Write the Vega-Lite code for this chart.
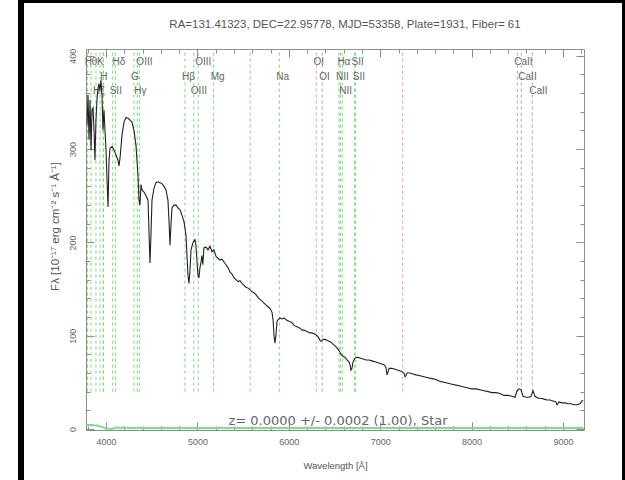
{
  "$schema": "https://vega.github.io/schema/vega-lite/v6.json",
  "background": "white",
  "padding": {"left": 18, "top": 0, "right": 0, "bottom": 0},
  "config": {"view": {"stroke": null}},
  "datasets": {
    "spec": [
      {"w":3791,"f":326},{"w":3802,"f":358},{"w":3813,"f":310},{"w":3824,"f":353},{"w":3835,"f":299},{"w":3846,"f":342},{"w":3857,"f":344},{"w":3868,"f":320},{"w":3878,"f":288},{"w":3889,"f":331},{"w":3900,"f":353},{"w":3911,"f":365},{"w":3922,"f":370},{"w":3933,"f":363},{"w":3944,"f":374},{"w":3955,"f":358},{"w":3966,"f":320},{"w":3977,"f":342},{"w":3988,"f":320},{"w":3999,"f":299},{"w":4010,"f":267},{"w":4021,"f":238},{"w":4032,"f":288},{"w":4043,"f":301},{"w":4065,"f":303},{"w":4086,"f":299},{"w":4108,"f":294},{"w":4130,"f":288},{"w":4141,"f":282},{"w":4152,"f":290},{"w":4174,"f":315},{"w":4196,"f":329},{"w":4218,"f":334},{"w":4240,"f":333},{"w":4262,"f":331},{"w":4283,"f":329},{"w":4305,"f":320},{"w":4327,"f":304},{"w":4338,"f":288},{"w":4349,"f":272},{"w":4360,"f":245},{"w":4371,"f":240},{"w":4382,"f":262},{"w":4393,"f":256},{"w":4415,"f":254},{"w":4437,"f":250},{"w":4459,"f":245},{"w":4469,"f":213},{"w":4480,"f":178},{"w":4491,"f":208},{"w":4502,"f":245},{"w":4524,"f":258},{"w":4546,"f":264},{"w":4568,"f":265},{"w":4590,"f":264},{"w":4612,"f":263},{"w":4634,"f":260},{"w":4656,"f":256},{"w":4677,"f":245},{"w":4688,"f":224},{"w":4699,"f":197},{"w":4710,"f":219},{"w":4721,"f":237},{"w":4743,"f":240},{"w":4765,"f":240},{"w":4787,"f":237},{"w":4809,"f":235},{"w":4831,"f":229},{"w":4853,"f":222},{"w":4874,"f":208},{"w":4885,"f":186},{"w":4896,"f":165},{"w":4907,"f":156},{"w":4918,"f":170},{"w":4929,"f":192},{"w":4951,"f":200},{"w":4973,"f":203},{"w":4983,"f":197},{"w":4994,"f":181},{"w":5005,"f":165},{"w":5016,"f":162},{"w":5027,"f":173},{"w":5039,"f":179},{"w":5048,"f":186},{"w":5059,"f":176},{"w":5070,"f":194},{"w":5093,"f":195},{"w":5115,"f":192},{"w":5137,"f":196},{"w":5159,"f":190},{"w":5180,"f":192},{"w":5203,"f":185},{"w":5225,"f":183},{"w":5246,"f":181},{"w":5268,"f":182},{"w":5290,"f":179},{"w":5312,"f":176},{"w":5334,"f":173},{"w":5356,"f":168},{"w":5378,"f":166},{"w":5400,"f":162},{"w":5422,"f":160},{"w":5443,"f":158},{"w":5465,"f":159},{"w":5487,"f":156},{"w":5509,"f":154},{"w":5531,"f":152},{"w":5553,"f":151},{"w":5575,"f":149},{"w":5597,"f":147},{"w":5619,"f":146},{"w":5640,"f":144},{"w":5662,"f":141},{"w":5684,"f":139},{"w":5706,"f":137},{"w":5728,"f":135},{"w":5750,"f":133},{"w":5772,"f":131},{"w":5794,"f":129},{"w":5816,"f":125},{"w":5827,"f":117},{"w":5837,"f":101},{"w":5848,"f":92},{"w":5859,"f":101},{"w":5870,"f":115},{"w":5881,"f":117},{"w":5903,"f":119},{"w":5925,"f":118},{"w":5947,"f":119},{"w":5969,"f":117},{"w":5991,"f":116},{"w":6013,"f":115},{"w":6034,"f":114},{"w":6056,"f":111},{"w":6078,"f":110},{"w":6100,"f":109},{"w":6122,"f":108},{"w":6144,"f":106},{"w":6166,"f":106},{"w":6188,"f":105},{"w":6210,"f":104},{"w":6231,"f":103},{"w":6253,"f":103},{"w":6275,"f":102},{"w":6297,"f":101},{"w":6319,"f":99},{"w":6341,"f":95},{"w":6352,"f":94},{"w":6374,"f":96},{"w":6396,"f":96},{"w":6417,"f":95},{"w":6439,"f":94},{"w":6461,"f":93},{"w":6483,"f":91},{"w":6505,"f":89},{"w":6527,"f":87},{"w":6549,"f":84},{"w":6571,"f":80},{"w":6593,"f":78},{"w":6614,"f":77},{"w":6636,"f":74},{"w":6658,"f":72},{"w":6669,"f":69},{"w":6680,"f":63},{"w":6691,"f":65},{"w":6702,"f":72},{"w":6724,"f":76},{"w":6746,"f":77},{"w":6779,"f":76},{"w":6812,"f":75},{"w":6844,"f":74},{"w":6877,"f":74},{"w":6910,"f":73},{"w":6943,"f":72},{"w":6976,"f":71},{"w":7008,"f":70},{"w":7041,"f":69},{"w":7063,"f":66},{"w":7074,"f":58},{"w":7085,"f":61},{"w":7096,"f":65},{"w":7129,"f":65},{"w":7162,"f":64},{"w":7195,"f":63},{"w":7227,"f":62},{"w":7260,"f":60},{"w":7271,"f":56},{"w":7282,"f":57},{"w":7293,"f":60},{"w":7326,"f":60},{"w":7359,"f":59},{"w":7392,"f":58},{"w":7435,"f":57},{"w":7479,"f":56},{"w":7523,"f":55},{"w":7567,"f":54},{"w":7610,"f":53},{"w":7654,"f":51},{"w":7698,"f":50},{"w":7742,"f":49},{"w":7786,"f":48},{"w":7829,"f":47},{"w":7873,"f":46},{"w":7917,"f":45},{"w":7961,"f":44},{"w":8004,"f":43},{"w":8048,"f":43},{"w":8092,"f":42},{"w":8136,"f":41},{"w":8180,"f":40},{"w":8223,"f":39},{"w":8267,"f":39},{"w":8311,"f":38},{"w":8355,"f":36},{"w":8398,"f":36},{"w":8442,"f":35},{"w":8475,"f":34},{"w":8497,"f":41},{"w":8519,"f":43},{"w":8541,"f":42},{"w":8563,"f":35},{"w":8595,"f":34},{"w":8628,"f":34},{"w":8650,"f":35},{"w":8672,"f":41},{"w":8694,"f":35},{"w":8727,"f":33},{"w":8760,"f":33},{"w":8792,"f":32},{"w":8825,"f":31},{"w":8858,"f":31},{"w":8891,"f":30},{"w":8924,"f":29},{"w":8935,"f":26},{"w":8957,"f":29},{"w":8989,"f":28},{"w":9022,"f":28},{"w":9055,"f":27},{"w":9088,"f":27},{"w":9121,"f":26},{"w":9154,"f":26},{"w":9186,"f":27},{"w":9208,"f":30},{"w":9219,"f":31}
    ],
    "err": [
      {"w":3785,"e":4},{"w":3830,"e":4.5},{"w":3870,"e":4},{"w":3920,"e":3.5},{"w":3960,"e":2},{"w":4000,"e":0.5},{"w":4060,"e":0},{"w":4120,"e":1.5},{"w":4300,"e":1},{"w":4800,"e":1},{"w":5500,"e":1},{"w":6500,"e":1},{"w":7500,"e":1},{"w":8500,"e":1},{"w":9225,"e":1}
    ],
    "lines": [
      {"w":3798,"k":"emission"},{"w":3835,"k":"emission"},{"w":3889,"k":"emission"},{"w":3934,"k":"emission"},{"w":3969,"k":"emission"},{"w":3971,"k":"emission"},{"w":4072,"k":"emission"},{"w":4102,"k":"emission"},{"w":4305,"k":"emission"},{"w":4341,"k":"emission"},{"w":4364,"k":"emission"},{"w":4863,"k":"emission"},{"w":4960,"k":"emission"},{"w":5008,"k":"emission"},{"w":5177,"k":"emission"},{"w":5577,"k":"sky"},{"w":5896,"k":"emission"},{"w":6300,"k":"sky"},{"w":6365,"k":"absorption"},{"w":6549,"k":"emission"},{"w":6564,"k":"emission"},{"w":6585,"k":"emission"},{"w":6718,"k":"emission"},{"w":6732,"k":"emission"},{"w":7246,"k":"sky"},{"w":8500,"k":"absorption"},{"w":8544,"k":"absorption"},{"w":8664,"k":"absorption"}
    ],
    "labels": [
      {"t":"Hθ","w":3798,"tier":1},{"t":"K","w":3934,"tier":1},{"t":"Hδ","w":4102,"tier":1},{"t":"OIII","w":4364,"tier":1},{"t":"OIII","w":5008,"tier":1},{"t":"OI","w":6302,"tier":1},{"t":"Hα","w":6564,"tier":1},{"t":"SII","w":6718,"tier":1},{"t":"CaII","w":8500,"tier":1},
      {"t":"H","w":3969,"tier":2},{"t":"G","w":4305,"tier":2},{"t":"Hβ","w":4863,"tier":2},{"t":"Mg","w":5177,"tier":2},{"t":"Na","w":5896,"tier":2},{"t":"OI","w":6365,"tier":2},{"t":"NII","w":6549,"tier":2},{"t":"SII","w":6732,"tier":2},{"t":"CaII","w":8544,"tier":2},
      {"t":"Hζ","w":3889,"tier":3},{"t":"SII","w":4072,"tier":3},{"t":"Hγ","w":4341,"tier":3},{"t":"OIII","w":4960,"tier":3},{"t":"NII","w":6585,"tier":3},{"t":"CaII","w":8664,"tier":3}
    ]
  },
  "columns": 5,
  "spacing": 0,
  "bounds": "flush",
  "align": "each",
  "concat": [
    {"width": 6, "height": 3, "data": {"values": []}, "mark": "point", "view": {"fill": "black", "stroke": null}},
    {"width": 62, "height": 3, "data": {"values": []}, "mark": "point", "view": {"fill": "black", "stroke": null}},
    {"width": 498, "height": 3, "data": {"values": []}, "mark": "point", "view": {"fill": "black", "stroke": null}},
    {"width": 38, "height": 3, "data": {"values": []}, "mark": "point", "view": {"fill": "black", "stroke": null}},
    {"width": 3, "height": 3, "data": {"values": []}, "mark": "point", "view": {"fill": "black", "stroke": null}},

    {"width": 6, "height": 46, "data": {"values": []}, "mark": "point", "view": {"fill": "black", "stroke": null}},
    {"width": 62, "height": 46, "data": {"values": []}, "mark": "point"},
    {"width": 498, "height": 46, "data": {"values": []}, "mark": "point"},
    {"width": 38, "height": 46, "data": {"values": []}, "mark": "point"},
    {"width": 3, "height": 46, "data": {"values": []}, "mark": "point", "view": {"fill": "black", "stroke": null}},

    {"width": 6, "height": 431, "data": {"values": []}, "mark": "point", "view": {"fill": "black", "stroke": null}},
    {"width": 62, "height": 431, "data": {"values": []}, "mark": "point"},
    {
      "width": 498,
      "height": 381,
      "view": {"stroke": "#8c8c8c", "strokeWidth": 1},
      "title": {"text": "RA=131.41323, DEC=22.95778, MJD=53358, Plate=1931, Fiber= 61", "frame": "group", "anchor": "middle", "dx": 10, "offset": 18, "fontSize": 11.5, "fontWeight": "normal", "font": "Liberation Sans", "color": "#555555"},
      "layer": [
        {
          "data": {"name": "lines"},
          "mark": {"type": "rule", "strokeDash": [3, 3], "strokeWidth": 1},
          "encoding": {
            "x": {"field": "w", "type": "quantitative", "scale": {"domain": [3780, 9230], "nice": false, "zero": false}, "axis": null},
            "y": {"datum": 40, "type": "quantitative", "scale": {"domain": [-1.1, 407.3], "nice": false, "zero": false}, "axis": null},
            "y2": {"datum": 407},
            "color": {"field": "k", "type": "nominal", "scale": {"domain": ["emission", "sky", "absorption"], "range": ["#74dc74", "#ee88ee", "#a8a8a8"]}, "legend": null}
          }
        },
        {
          "data": {"name": "labels"},
          "mark": {"type": "text", "align": "left", "baseline": "middle", "dx": -3, "fontSize": 10, "font": "Liberation Sans", "color": "#666666"},
          "encoding": {
            "x": {"field": "w", "type": "quantitative", "scale": {"domain": [3780, 9230], "nice": false, "zero": false}, "axis": null},
            "y": {"datum": 407, "type": "quantitative", "scale": {"domain": [-1.1, 407.3], "nice": false, "zero": false}, "axis": null},
            "yOffset": {"field": "tier", "type": "quantitative", "scale": {"domain": [1, 3], "range": [13, 42]}},
            "text": {"field": "t"}
          }
        },
        {
          "data": {"name": "err"},
          "mark": {"type": "line", "color": "#7ee07e", "strokeWidth": 2},
          "encoding": {
            "x": {"field": "w", "type": "quantitative", "scale": {"domain": [3780, 9230], "nice": false, "zero": false},
              "axis": {"orient": "top", "values": [3800,4000,4200,4400,4600,4800,5000,5200,5400,5600,5800,6000,6200,6400,6600,6800,7000,7200,7400,7600,7800,8000,8200,8400,8600,8800,9000,9200], "labels": false, "title": null, "domain": false, "grid": false, "tickColor": "#8c8c8c", "tickSize": {"condition": {"test": "datum.value % 1000 === 0", "value": -8}, "value": -4}}},
            "y": {"field": "e", "type": "quantitative", "scale": {"domain": [-1.1, 407.3], "nice": false, "zero": false},
              "axis": {"orient": "right", "values": [0,20,40,60,80,100,120,140,160,180,200,220,240,260,280,300,320,340,360,380,400], "labels": false, "title": null, "domain": false, "grid": false, "tickColor": "#8c8c8c", "tickSize": {"condition": {"test": "datum.value % 100 === 0", "value": -8}, "value": -4}}}
          }
        },
        {
          "data": {"name": "spec"},
          "mark": {"type": "line", "color": "#222222", "strokeWidth": 1.1},
          "encoding": {
            "x": {"field": "w", "type": "quantitative", "scale": {"domain": [3780, 9230], "nice": false, "zero": false},
              "axis": {"orient": "bottom", "values": [3800,4000,4200,4400,4600,4800,5000,5200,5400,5600,5800,6000,6200,6400,6600,6800,7000,7200,7400,7600,7800,8000,8200,8400,8600,8800,9000,9200], "labelExpr": "datum.value % 1000 === 0 ? datum.label : ''", "format": "d", "labelFlush": false, "labelOverlap": false, "domain": false, "grid": false, "tickColor": "#8c8c8c", "tickSize": {"condition": {"test": "datum.value % 1000 === 0", "value": -8}, "value": -4}, "labelPadding": 15, "labelFont": "Liberation Sans", "labelFontSize": 9, "labelColor": "#666666", "title": "Wavelength [Å]", "titleFont": "Liberation Sans", "titleFontSize": 9.5, "titleFontWeight": "normal", "titleColor": "#555555", "titleY": 35, "titleBaseline": "middle"}},
            "y": {"field": "f", "type": "quantitative", "scale": {"domain": [-1.1, 407.3], "nice": false, "zero": false},
              "axis": {"orient": "left", "values": [0,20,40,60,80,100,120,140,160,180,200,220,240,260,280,300,320,340,360,380,400], "labelExpr": "datum.value % 100 === 0 ? datum.label : ''", "format": "d", "labelFlush": false, "labelOverlap": false, "labelAngle": 270, "labelAlign": "center", "labelBaseline": "bottom", "domain": false, "grid": false, "tickColor": "#8c8c8c", "tickSize": {"condition": {"test": "datum.value % 100 === 0", "value": -8}, "value": -4}, "labelPadding": 17, "labelFont": "Liberation Sans", "labelFontSize": 9, "labelColor": "#666666", "title": "Fλ [10⁻¹⁷ erg cm⁻² s⁻¹ Å⁻¹]", "titleFont": "Liberation Sans", "titleFontSize": 11.5, "titleFontWeight": "normal", "titleColor": "#555555", "titleX": -31, "titleY": 177, "titleAngle": 270, "titleAlign": "center", "titleBaseline": "middle"}}
          }
        },
        {
          "data": {"values": [{"note": "z= 0.0000 +/- 0.0002 (1.00), Star"}]},
          "mark": {"type": "text", "align": "center", "baseline": "middle", "fontSize": 13, "font": "DejaVu Sans", "color": "#666666"},
          "encoding": {
            "x": {"datum": 6538, "type": "quantitative", "scale": {"domain": [3780, 9230], "nice": false, "zero": false}, "axis": null},
            "y": {"datum": 9, "type": "quantitative", "scale": {"domain": [-1.1, 407.3], "nice": false, "zero": false}, "axis": null},
            "text": {"field": "note"}
          }
        }
      ]
    },
    {"width": 38, "height": 431, "data": {"values": []}, "mark": "point"},
    {"width": 3, "height": 431, "data": {"values": []}, "mark": "point", "view": {"fill": "black", "stroke": null}}
  ]
}
